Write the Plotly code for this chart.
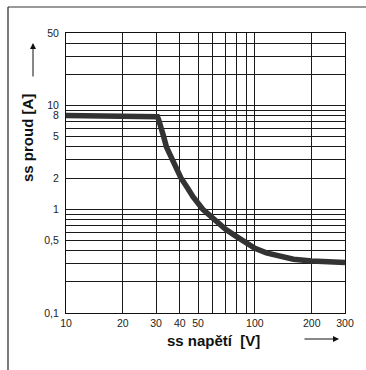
import plotly.graph_objects as go

# DC load-limit curve: voltage [V] vs. current [A]
voltage = [10, 30, 30.5, 31, 31.8, 32.8, 34, 36.5, 40.6, 44, 47, 53, 60, 70, 80,
           90, 100, 115, 135, 160, 200, 250, 300]
current = [8, 8, 7.8, 7.2, 6.3, 5.1, 4, 3, 2, 1.6, 1.32, 1.0, 0.82, 0.64, 0.545,
           0.47, 0.42, 0.38, 0.35, 0.33, 0.317, 0.31, 0.306]

# grid positions and labels
x_grid = [10, 20, 30, 40, 50, 60, 70, 80, 90, 100, 200, 300]
x_labels = ["10", "20", "30", "40", "50", "", "", "", "", "100", "200", "300"]
y_grid = [0.1, 0.2, 0.3, 0.4, 0.5, 0.6, 0.7, 0.8, 0.9,
          1, 2, 3, 4, 5, 6, 7, 8, 9, 10, 20, 30, 40, 50]
y_labels = ["0,1", "", "", "", "0,5", "", "", "", "",
            "1", "2", "", "", "5", "", "", "8", "", "10", "", "", "", "50"]

FONT = "Liberation Sans, Arial, sans-serif"

fig = go.Figure()
fig.add_trace(go.Scatter(
    x=voltage, y=current, mode="lines",
    line=dict(color="#333333", width=5.5, shape="linear"),
    hoverinfo="skip", showlegend=False,
))

axis_common = dict(
    type="log", showgrid=True, gridcolor="#1a1a1a", gridwidth=1,
    showline=True, linecolor="#111111", linewidth=1, mirror=True,
    tickfont=dict(family=FONT, size=10.5, color="#222222"),
    zeroline=False, fixedrange=True,
)
fig.update_xaxes(range=[1, 2.4771], tickmode="array", tickvals=x_grid,
                 ticktext=x_labels, ticks="", **axis_common)
fig.update_yaxes(range=[-1, 1.69897], tickmode="array", tickvals=y_grid,
                 ticktext=y_labels, ticks="outside", ticklen=4,
                 tickcolor="rgba(0,0,0,0)", **axis_common)

L, T, W, H = 66, 33, 279, 280


def px(xp):
    return (xp - L) / W


def py(yp):
    return (T + H - yp) / H


fig.update_layout(
    width=366, height=370,
    margin=dict(l=L, r=366 - L - W, t=T, b=370 - T - H),
    paper_bgcolor="white", plot_bgcolor="white",
    font=dict(family=FONT),
    shapes=[
        # outer frame (top and left edges)
        dict(type="line", xref="paper", yref="paper",
             x0=px(8), x1=px(370), y0=py(7), y1=py(7),
             line=dict(color="#777777", width=1.3)),
        dict(type="line", xref="paper", yref="paper",
             x0=px(8), x1=px(8), y0=py(7), y1=py(375),
             line=dict(color="#222222", width=1.2)),
    ],
    annotations=[
        dict(text="<b>ss proud [A]</b>", xref="paper", yref="paper",
             x=px(27), y=py(138), xanchor="center", yanchor="middle",
             textangle=-90, showarrow=False,
             font=dict(family=FONT, size=15, color="#111111")),
        dict(text="<b>ss napětí \u00a0[V]</b>", xref="paper", yref="paper",
             x=px(213), y=py(340), xanchor="center", yanchor="middle",
             showarrow=False,
             font=dict(family=FONT, size=15, color="#111111")),
        dict(text="", xref="paper", yref="paper", x=px(33), y=py(43),
             ax=0, ay=35, showarrow=True, arrowhead=2, arrowsize=1.2,
             arrowwidth=1, arrowcolor="#111111"),
        dict(text="", xref="paper", yref="paper", x=px(339), y=py(339),
             ax=-36, ay=0, showarrow=True, arrowhead=2, arrowsize=1.2,
             arrowwidth=1, arrowcolor="#111111"),
    ],
)

fig.write_html("out.html")
